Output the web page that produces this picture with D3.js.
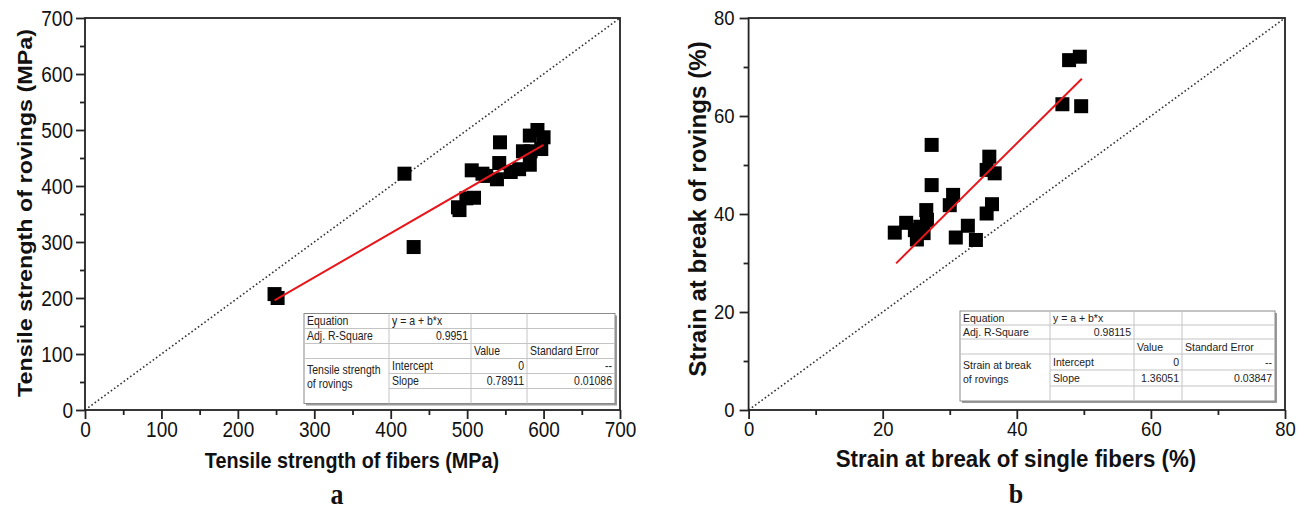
<!DOCTYPE html>
<html>
<head>
<meta charset="utf-8">
<script src="https://cdn.jsdelivr.net/npm/d3@7"></script>
<style>
    body { margin: 0; background: #fff; }
    svg { display: block; }
    .tick text { font-family: "Liberation Sans", Arial, sans-serif; fill: #111; }
    .tick line { stroke: #222; stroke-width: 1.8; }
    .axtitle { font-family: "Liberation Sans", Arial, sans-serif; font-weight: bold; fill: #111; }
    .panellabel { font-family: "Liberation Serif", "Times New Roman", serif; font-weight: bold; font-size: 26px; fill: #111; }
    .tbl text { font-family: "Liberation Sans", Arial, sans-serif; font-size: 10.5px; fill: #222; }
    /* the source panels are a bit taller than wide, so text is stretched vertically */
    .tick text, .stretch, .tbl text { transform-box: fill-box; transform-origin: center; }
</style>
</head>
<body>
<svg id="chart" width="1309" height="510"></svg>
<script>
// panel a: tensile strength (MPa)
var fiberStrength = [248, 252, 418, 430, 488, 490, 499, 509, 506, 520, 525, 539, 542, 543, 557, 568, 582, 573, 583, 582, 592, 600, 597];
var rovingStrength = [207, 200, 422, 291, 362, 357, 378, 379, 428, 422, 418, 412, 441, 478, 425, 430, 438, 462, 462, 490, 500, 487, 466];
var strengthTicks = [0, 100, 200, 300, 400, 500, 600, 700];
var strengthMinor = [50, 150, 250, 350, 450, 550, 650];
var strengthFit = { slope: 0.78911, from: 248, to: 600 };
var strengthTable = [
    ["Equation", "y = a + b*x", "", ""],
    ["Adj. R-Square", "0.9951", "", ""],
    ["", "", "Value", "Standard Error"],
    ["Tensile strength|of rovings", "Intercept", "0", "--"],
    ["", "Slope", "0.78911", "0.01086"]
];

// panel b: strain at break (%)
var fiberStrain = [21.8, 23.5, 24.8, 25.1, 26.1, 26.5, 26.6, 25.6, 27.3, 27.3, 30.0, 30.5, 30.9, 32.7, 33.9, 35.5, 36.3, 35.9, 35.5, 36.7, 46.8, 49.6, 47.8, 49.4];
var rovingStrain = [36.2, 38.2, 36.7, 34.8, 36.1, 40.8, 38.8, 37.4, 54.1, 45.9, 41.8, 43.9, 35.2, 37.6, 34.7, 40.1, 42.0, 51.7, 49.0, 48.3, 62.4, 62.0, 71.4, 72.1];
var strainTicks = [0, 20, 40, 60, 80];
var strainMinor = [10, 30, 50, 70];
var strainFit = { slope: 1.36051, from: 22, to: 49.7 };
var strainTable = [
    ["Equation", "y = a + b*x", "", ""],
    ["Adj. R-Square", "0.98115", "", ""],
    ["", "", "Value", "Standard Error"],
    ["Strain at break|of rovings", "Intercept", "0", "--"],
    ["", "Slope", "1.36051", "0.03847"]
];

var svg = d3.select("#chart");

drawPanel({
    x0: 85, x1: 620, y0: 18, y1: 410,
    max: 700, ticks: strengthTicks, minor: strengthMinor,
    xs: fiberStrength, ys: rovingStrength, fit: strengthFit,
    stretch: 1.14, tickFont: 19, tickPad: 3, xFont: 19.8, yFont: 20.5,
    xtitle: "Tensile strength of fibers (MPa)", ytitle: "Tensile strength of rovings (MPa)",
    xtitleX: 352, ytitleX: 25, ytitleY: 213, label: "a", labelX: 337,
    table: strengthTable, tx: 304, ty: 313.5, cols: [85, 82, 56, 88], rows: [15, 15, 15, 15, 15, 15]
});

drawPanel({
    x0: 748.6, x1: 1285, y0: 18, y1: 410,
    max: 80, ticks: strainTicks, minor: strainMinor,
    xs: fiberStrain, ys: rovingStrain, fit: strainFit,
    stretch: 1.05, tickFont: 18.5, tickPad: 5, xFont: 22.3, yFont: 23,
    xtitle: "Strain at break of single fibers (%)", ytitle: "Strain at break of rovings (%)",
    xtitleX: 1016, ytitleX: 698, ytitleY: 209, label: "b", labelX: 1016,
    table: strainTable, tx: 960, ty: 311, cols: [90, 84, 48, 93], rows: [14, 14, 15, 16, 16, 15]
});

function drawPanel(p) {
    var x = d3.scaleLinear().domain([0, p.max]).range([p.x0, p.x1]);
    var y = d3.scaleLinear().domain([0, p.max]).range([p.y1, p.y0]);
    var g = svg.append("g");
    var sy = "scaleY(" + p.stretch + ")";

    //minor ticks first, then majors
    g.append("g").attr("transform", "translate(0," + p.y1 + ")")
        .call(d3.axisBottom(x).tickValues(p.minor).tickSize(5).tickFormat(""))
        .call(function (a) { a.select(".domain").remove(); });
    g.append("g").attr("transform", "translate(" + p.x0 + ",0)")
        .call(d3.axisLeft(y).tickValues(p.minor).tickSize(5).tickFormat(""))
        .call(function (a) { a.select(".domain").remove(); });
    var xa = g.append("g").attr("transform", "translate(0," + p.y1 + ")")
        .call(d3.axisBottom(x).tickValues(p.ticks).tickSize(9).tickPadding(4).tickFormat(d3.format("d")));
    var ya = g.append("g").attr("transform", "translate(" + p.x0 + ",0)")
        .call(d3.axisLeft(y).tickValues(p.ticks).tickSize(9).tickPadding(p.tickPad).tickFormat(d3.format("d")));
    [xa, ya].forEach(function (a) {
        a.select(".domain").remove();
        a.selectAll(".tick text")
            .style("font-size", p.tickFont + "px")
            .style("transform", sy);
    });

    // y = x reference
    g.append("line")
        .attr("x1", x(0)).attr("y1", y(0))
        .attr("x2", x(p.max)).attr("y2", y(p.max))
        .attr("stroke", "#333")
        .attr("stroke-width", 1.6)
        .attr("stroke-dasharray", "1.6,2.4");

    g.append("rect")
        .attr("x", p.x0).attr("y", p.y0)
        .attr("width", p.x1 - p.x0).attr("height", p.y1 - p.y0)
        .attr("fill", "none")
        .attr("stroke", "#222")
        .attr("stroke-width", 1.8);

    var pts = p.xs.map(function (v, i) { return [v, p.ys[i]]; });
    var size = 14;
    g.selectAll(".pt")
        .data(pts)
        .enter()
        .append("rect")
        .classed("pt", true)
        .attr("x", function (d) { return x(d[0]) - size / 2; })
        .attr("y", function (d) { return y(d[1]) - size / 2; })
        .attr("width", size)
        .attr("height", size)
        .attr("fill", "#000");

    g.append("line")
        .attr("x1", x(p.fit.from)).attr("y1", y(p.fit.from * p.fit.slope))
        .attr("x2", x(p.fit.to)).attr("y2", y(p.fit.to * p.fit.slope))
        .attr("stroke", "#e8161b")
        .attr("stroke-width", 2);

    drawTable(g, p, sy);

    g.append("text")
        .classed("axtitle stretch", true)
        .attr("x", p.xtitleX).attr("y", 467)
        .attr("text-anchor", "middle")
        .style("font-size", p.xFont + "px")
        .style("transform", sy)
        .text(p.xtitle);

    //rotated title, stretched along its length (screen y)
    g.append("text")
        .classed("axtitle", true)
        .attr("transform", "translate(" + p.ytitleX + "," + p.ytitleY + ") scale(1," + p.stretch + ") rotate(-90)")
        .attr("text-anchor", "middle")
        .attr("dominant-baseline", "central")
        .style("font-size", p.yFont + "px")
        .text(p.ytitle);

    g.append("text")
        .classed("panellabel stretch", true)
        .attr("x", p.labelX).attr("y", 503)
        .attr("text-anchor", "middle")
        .style("transform", sy)
        .text(p.label);
}

function drawTable(g, p, sy) {
    var tg = g.append("g").classed("tbl", true);
    var xs = [p.tx];
    p.cols.forEach(function (w) { xs.push(xs[xs.length - 1] + w); });
    var ys = [p.ty];
    p.rows.forEach(function (h) { ys.push(ys[ys.length - 1] + h); });
    var W = xs[4] - xs[0], H = ys[ys.length - 1] - ys[0];

    //shadow + box
    tg.append("rect")
        .attr("x", p.tx + 2).attr("y", p.ty + 2)
        .attr("width", W).attr("height", H)
        .attr("fill", "#9a9a9a");
    tg.append("rect")
        .attr("x", p.tx).attr("y", p.ty)
        .attr("width", W).attr("height", H)
        .attr("fill", "#fff")
        .attr("stroke", "#8a8a8a")
        .attr("stroke-width", 1);

    var grid = "#c4c4c4";
    // horizontal lines (col 1 merged below row 3)
    for (var r = 1; r < ys.length - 1; r++) {
        var start = r >= 4 ? xs[1] : xs[0];
        tg.append("line")
            .attr("x1", start).attr("x2", xs[4])
            .attr("y1", ys[r]).attr("y2", ys[r])
            .attr("stroke", grid).attr("stroke-width", 1);
    }
    for (var c = 1; c < 4; c++) {
        tg.append("line")
            .attr("x1", xs[c]).attr("x2", xs[c])
            .attr("y1", ys[0]).attr("y2", ys[ys.length - 1])
            .attr("stroke", grid).attr("stroke-width", 1);
    }

    var right = { "0.9951": 1, "0.98115": 1 };
    p.table.forEach(function (row, ri) {
        var cy = (ys[ri] + ys[ri + 1]) / 2;
        row.forEach(function (cell, ci) {
            if (cell === "") return;
            if (cell.indexOf("|") >= 0) {
                var parts = cell.split("|");
                parts.forEach(function (t, k) {
                    tg.append("text")
                        .attr("x", xs[0] + 3)
                        .attr("y", ys[3] + 11 + k * 14)
                        .attr("dominant-baseline", "central")
                        .style("transform", sy)
                        .text(t);
                });
                return;
            }
            var alignRight = right[cell] || (ri >= 3 && ci >= 2);
            tg.append("text")
                .attr("x", alignRight ? xs[ci + 1] - 3 : xs[ci] + 3)
                .attr("y", cy)
                .attr("dominant-baseline", "central")
                .attr("text-anchor", alignRight ? "end" : "start")
                .style("transform", sy)
                .text(cell);
        });
    });
}
</script>
</body>
</html>
